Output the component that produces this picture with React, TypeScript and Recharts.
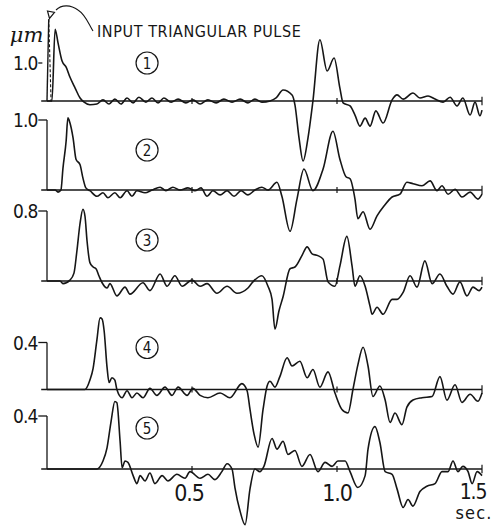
import React from 'react';
import { LineChart, Line, XAxis, YAxis, ReferenceLine, ReferenceDot } from 'recharts';

// Response records: time (sec) and displacement (µm), taken at the turning points of each trace
const t1 = [
  0, 0.017, 0.028, 0.038, 0.052, 0.066, 0.079, 0.097, 0.114, 0.128,
  0.148, 0.172, 0.193, 0.214, 0.234, 0.255, 0.276, 0.297, 0.317, 0.341,
  0.362, 0.383, 0.403, 0.428, 0.452, 0.479, 0.503, 0.528, 0.555, 0.583,
  0.61, 0.638, 0.666, 0.693, 0.717, 0.741, 0.769, 0.79, 0.814, 0.845,
  0.855, 0.869, 0.883, 0.9, 0.917, 0.941, 0.966, 0.99, 1.01, 1.021,
  1.045, 1.062, 1.079, 1.097, 1.114, 1.134, 1.159, 1.19, 1.207, 1.228,
  1.262, 1.286, 1.314, 1.338, 1.366, 1.39, 1.414, 1.434, 1.459, 1.476,
  1.493, 1.5,
];
const a1 = [
  0, 0, 1.89, 1.53, 1.05, 0.89, 0.63, 0.34, 0.08, -0.03,
  -0.1, -0.08, 0.03, -0.08, 0.05, -0.08, 0.08, -0.05, 0.1, -0.03,
  0.08, -0.05, 0.08, -0.03, 0.05, -0.05, 0.03, -0.08, 0.03, -0.05,
  0.05, -0.03, 0.05, -0.05, 0.05, -0.03, 0, 0.08, 0.29, 0.16,
  -0.1, -0.97, -1.58, -0.97, 0, 1.61, 0.79, 1.13, 0.34, -0.05,
  -0.13, -0.37, -0.66, -0.45, -0.66, -0.26, -0.58, 0.03, 0.16, 0.05,
  0.21, 0.08, 0.13, 0.05, -0.03, 0.1, -0.13, 0.08, -0.37, -0.03,
  -0.39, -0.24,
];

const t2 = [
  0, 0.028, 0.038, 0.048, 0.055, 0.066, 0.072, 0.079, 0.09, 0.1,
  0.114, 0.124, 0.134, 0.148, 0.172, 0.193, 0.21, 0.234, 0.252, 0.276,
  0.293, 0.31, 0.338, 0.362, 0.39, 0.41, 0.434, 0.459, 0.486, 0.51,
  0.531, 0.552, 0.572, 0.597, 0.621, 0.645, 0.669, 0.693, 0.717, 0.741,
  0.762, 0.793, 0.81, 0.838, 0.862, 0.886, 0.917, 0.952, 0.986, 1.01,
  1.031, 1.045, 1.062, 1.072, 1.09, 1.114, 1.138, 1.162, 1.19, 1.217,
  1.241, 1.262, 1.293, 1.321, 1.345, 1.362, 1.383, 1.407, 1.431, 1.459,
  1.486, 1.5,
];
const a2 = [
  0, 0, -0.03, 0, 0.31, 0.7, 1.03, 0.96, 0.74, 0.44,
  0.36, 0.17, 0.03, -0.01, -0.09, -0.04, -0.11, -0.04, -0.11, -0.01,
  -0.09, -0.01, -0.04, 0, 0.04, -0.01, 0.04, 0, 0.03, -0.01,
  0.03, -0.09, -0.01, -0.07, -0.01, -0.09, -0.01, -0.07, 0, 0.04,
  0, 0.11, -0.09, -0.59, -0.13, 0.3, -0.01, 0.3, 0.84, 0.44,
  0.19, 0.16, -0.13, -0.41, -0.31, -0.56, -0.37, -0.23, -0.1, -0.06,
  0.11, 0.09, 0.06, 0.13, -0.01, 0.06, -0.06, 0.01, -0.1, -0.03,
  -0.13, -0.06,
];

const t3 = [
  0, 0.045, 0.055, 0.079, 0.093, 0.103, 0.114, 0.124, 0.131, 0.138,
  0.148, 0.159, 0.169, 0.179, 0.19, 0.207, 0.217, 0.241, 0.269, 0.286,
  0.331, 0.355, 0.39, 0.414, 0.441, 0.466, 0.5, 0.528, 0.552, 0.586,
  0.621, 0.655, 0.693, 0.71, 0.741, 0.762, 0.776, 0.786, 0.8, 0.814,
  0.838, 0.855, 0.879, 0.897, 0.914, 0.934, 0.952, 0.969, 0.993, 1.01,
  1.034, 1.052, 1.062, 1.079, 1.097, 1.114, 1.121, 1.138, 1.159, 1.19,
  1.207, 1.228, 1.252, 1.276, 1.303, 1.328, 1.355, 1.379, 1.4, 1.424,
  1.448, 1.469, 1.49, 1.5,
];
const a3 = [
  0, 0, -0.03, 0.01, 0.09, 0.34, 0.66, 0.82, 0.74, 0.46,
  0.21, 0.16, 0.14, 0.06, -0.02, -0.08, -0.03, -0.17, -0.07, -0.15,
  -0.02, -0.11, 0.08, -0.06, 0.06, -0.06, 0.01, -0.06, -0.03, -0.14,
  -0.06, -0.14, -0.08, -0.01, 0.06, -0.06, -0.21, -0.55, -0.34, -0.18,
  0.14, 0.16, 0.29, 0.39, 0.31, 0.29, 0.25, -0.01, -0.06, 0.17,
  0.51, 0.17, -0.06, 0.06, -0.06, -0.29, -0.38, -0.3, -0.38, -0.21,
  -0.21, -0.13, 0.06, -0.07, 0.23, -0.03, 0.08, -0.06, -0.15, -0.01,
  -0.17, -0.07, -0.11, -0.07,
];

const t4 = [
  0, 0.131, 0.148, 0.159, 0.172, 0.183, 0.19, 0.197, 0.207, 0.214,
  0.224, 0.234, 0.241, 0.259, 0.276, 0.293, 0.31, 0.331, 0.355, 0.379,
  0.407, 0.431, 0.452, 0.483, 0.503, 0.528, 0.555, 0.597, 0.631, 0.672,
  0.69, 0.7, 0.714, 0.728, 0.745, 0.759, 0.769, 0.786, 0.803, 0.828,
  0.845, 0.872, 0.897, 0.917, 0.941, 0.969, 0.993, 1.017, 1.038, 1.055,
  1.072, 1.09, 1.107, 1.124, 1.148, 1.166, 1.183, 1.2, 1.224, 1.241,
  1.262, 1.293, 1.328, 1.355, 1.379, 1.407, 1.431, 1.459, 1.486, 1.5,
];
const a4 = [
  0, 0, 0.08, 0.18, 0.42, 0.61, 0.6, 0.5, 0.19, 0.06,
  0.1, 0.08, 0, -0.07, -0.01, -0.07, -0.03, -0.07, 0.01, -0.05,
  0.02, -0.05, 0.02, -0.05, 0.01, -0.05, -0.07, -0.03, -0.07, 0.05,
  -0.01, -0.17, -0.38, -0.49, -0.17, 0.03, 0.07, 0.02, 0.11, 0.27,
  0.2, 0.24, 0.1, 0.17, 0.02, 0.15, -0.03, -0.17, -0.2, 0,
  0.21, 0.36, 0.2, -0.06, 0.03, -0.09, -0.28, -0.2, -0.3, -0.15,
  -0.09, -0.07, -0.06, 0.11, -0.09, 0.04, -0.11, -0.04, -0.1, -0.03,
];

const t5 = [
  0, 0.172, 0.193, 0.207, 0.221, 0.234, 0.241, 0.252, 0.259, 0.269,
  0.279, 0.297, 0.31, 0.321, 0.338, 0.355, 0.372, 0.397, 0.417, 0.448,
  0.476, 0.493, 0.528, 0.555, 0.579, 0.603, 0.621, 0.638, 0.648, 0.666,
  0.683, 0.7, 0.717, 0.734, 0.748, 0.776, 0.793, 0.814, 0.831, 0.855,
  0.879, 0.907, 0.934, 0.959, 0.983, 1.003, 1.028, 1.045, 1.072, 1.097,
  1.107, 1.131, 1.148, 1.166, 1.19, 1.207, 1.228, 1.245, 1.262, 1.286,
  1.31, 1.338, 1.362, 1.383, 1.4, 1.417, 1.434, 1.452, 1.466, 1.483,
  1.5,
];
const a5 = [
  0, 0, 0.06, 0.16, 0.36, 0.51, 0.5, 0.21, 0.01, 0.06,
  0.05, -0.05, -0.11, -0.05, -0.09, -0.03, -0.11, -0.05, -0.09, -0.04,
  -0.07, -0.02, -0.07, -0.04, -0.08, -0.02, 0.04, 0, -0.14, -0.32,
  -0.42, -0.15, 0, -0.02, 0.02, 0.23, 0.15, 0.21, 0.11, 0.14,
  0.02, 0.11, -0.02, 0.05, 0.02, 0.06, 0.06, -0.02, -0.14, -0.05,
  0.15, 0.32, 0.2, -0.02, -0.04, -0.15, -0.29, -0.23, -0.28, -0.17,
  -0.13, -0.11, -0.02, -0.02, 0.06, -0.02, 0.02, -0.02, -0.11, -0.02,
  -0.05,
];

// input triangular pulse drawn on the first record
const inputTime = [0, 0.006, 0.014];
const inputAmp = [0, 2.15, 0];

const traceNames = ['1', '2', '3', '4', '5'];
const scaleMarks = [1.0, 1.0, 0.8, 0.4, 0.4];
const timeTicks = [0.5, 1.0, 1.5];

const TIMES = [t1, t2, t3, t4, t5];
const AMPS = [a1, a2, a3, a4, a5];

const W = 496;
const H = 528;
const INK = '#161616';
const LETTERING = "'DejaVu Sans Condensed', 'DejaVu Sans', sans-serif";

// shared time scale for all five records
const PX_PER_SEC = 290;
const ORIGIN_X = 47;
const T_MIN = -0.035;
const T_MAX = 1.512;
const LEFT = ORIGIN_X + T_MIN * PX_PER_SEC;
const RIGHT = W - LEFT - (T_MAX - T_MIN) * PX_PER_SEC;

// each record has its own zero line and amplitude scale
const BASELINE_Y = [101, 190, 281, 389.5, 469];
const PX_PER_UM = [38, 70, 87.5, 117.5, 132.5];
const BADGE_RISE = [38, 40, 41, 42, 41];
const BADGE_T = 0.345;

const toRows = (ts: number[], vs: number[]) => ts.map((t, i) => ({ t, v: vs[i] }));

function boxOf(p: any) {
  const vb = (p && p.viewBox) || {};
  return { x: vb.x ?? 0, y: vb.y ?? 0, w: vb.width ?? 0, h: vb.height ?? 0 };
}

const scaleLabel = (i: number) => (p: any) => {
  const b = boxOf(p);
  return (
    <g>
      {i === 0 && (
        <text
          x={b.x + 5}
          y={b.y - 21}
          textAnchor="end"
          fontFamily="'DejaVu Serif', serif"
          fontStyle="italic"
          fontSize={21}
          fill={INK}
        >
          μm
        </text>
      )}
      <text
        x={b.x - 1}
        y={b.y + 7}
        textAnchor="end"
        fontFamily={LETTERING}
        fontSize={19}
        letterSpacing={-1}
        fill={INK}
      >
        {scaleMarks[i].toFixed(1)}
      </text>
    </g>
  );
};

const timeLabel = (tick: number) => (p: any) => {
  const b = boxOf(p);
  const cx = b.x + b.w / 2;
  const base = b.y + b.h / 2;
  const style = { fontFamily: LETTERING, fontSize: 23, letterSpacing: -1.2, fill: INK };
  if (tick === 1.5) {
    return (
      <g>
        <text x={cx - 9} y={base + 30} textAnchor="middle" {...style} fontSize={21}>
          {tick.toFixed(1)}
        </text>
        <text x={cx - 8} y={base + 50} textAnchor="middle" {...style} fontSize={18} letterSpacing={1.2}>
          sec.
        </text>
      </g>
    );
  }
  return (
    <text x={cx - (tick === 0.5 ? 3 : 0)} y={base + 32} textAnchor="middle" {...style}>
      {tick.toFixed(1)}
    </text>
  );
};

const badgeLabel = (name: string) => (p: any) => {
  const b = boxOf(p);
  return (
    <text
      x={b.x + b.w / 2}
      y={b.y + b.h / 2 + 5.5}
      textAnchor="middle"
      fontFamily={LETTERING}
      fontSize={15}
      fill={INK}
    >
      {name}
    </text>
  );
};

function Trace({ i }: { i: number }) {
  const base = BASELINE_Y[i];
  const k = PX_PER_UM[i];
  const yDomain = [-(H - base) / k, base / k];
  const nick = 3 / k;
  const rows = toRows(TIMES[i], AMPS[i]);
  const top = scaleMarks[i];
  const isLast = i === TIMES.length - 1;

  return (
    <div style={{ position: 'absolute', left: 0, top: 0 }}>
      <LineChart width={W} height={H} margin={{ top: 0, right: RIGHT, bottom: 0, left: LEFT }}>
        <XAxis type="number" dataKey="t" domain={[T_MIN, T_MAX]} allowDataOverflow hide />
        <YAxis type="number" domain={yDomain} allowDataOverflow hide />
        <ReferenceLine
          segment={[{ x: -0.02, y: 0 }, { x: 1.5, y: 0 }]}
          stroke={INK}
          strokeWidth={1.3}
        />
        {timeTicks.map((tt) => {
          const h = tt === 1.5 ? nick * 1.4 : nick;
          return (
            <ReferenceLine
              key={tt}
              segment={[{ x: tt, y: -h }, { x: tt, y: h }]}
              stroke={INK}
              strokeWidth={1.2}
              label={isLast ? timeLabel(tt) : undefined}
            />
          );
        })}
        {i > 0 && (
          <ReferenceLine
            segment={[{ x: 0, y: 0 }, { x: 0, y: top }]}
            stroke={INK}
            strokeWidth={1.3}
          />
        )}
        <ReferenceLine
          segment={[{ x: -0.03, y: top }, { x: i === 0 ? -0.016 : 0, y: top }]}
          stroke={INK}
          strokeWidth={1.3}
          label={scaleLabel(i)}
        />
        <ReferenceDot
          x={BADGE_T}
          y={BADGE_RISE[i] / k}
          r={11}
          fill="none"
          stroke={INK}
          strokeWidth={1.2}
          label={badgeLabel(traceNames[i])}
        />
        {i === 0 && (
          <Line
            data={toRows(inputTime.slice(0, 2), inputAmp.slice(0, 2))}
            dataKey="v"
            type="linear"
            stroke={INK}
            strokeWidth={1.4}
            dot={false}
            isAnimationActive={false}
          />
        )}
        {i === 0 && (
          <Line
            data={toRows(inputTime.slice(1), inputAmp.slice(1))}
            dataKey="v"
            type="linear"
            stroke={INK}
            strokeWidth={1.1}
            strokeDasharray="3 2"
            dot={false}
            isAnimationActive={false}
          />
        )}
        <Line
          data={rows}
          dataKey="v"
          type="monotone"
          stroke={INK}
          strokeWidth={1.6}
          dot={false}
          isAnimationActive={false}
        />
      </LineChart>
    </div>
  );
}

export default function App() {
  return (
    <div style={{ position: 'absolute', left: 0, top: 0, width: W, height: H, background: '#fff' }}>
      {traceNames.map((_, i) => (
        <Trace key={i} i={i} />
      ))}
      <svg
        width={W}
        height={H}
        style={{ position: 'absolute', left: 0, top: 0, pointerEvents: 'none' }}
      >
        <path
          d="M 93 31 C 89 25, 86 15, 78 10 C 71 5, 62 4, 56 10"
          fill="none"
          stroke={INK}
          strokeWidth={1.1}
        />
        <polygon points="47.5,11 54.5,12.5 49.5,18.5" fill="none" stroke={INK} strokeWidth={1.2} />
        <text x={97} y={37} fontFamily={LETTERING} fontSize={16} letterSpacing={0.6} fill={INK}>
          INPUT TRIANGULAR PULSE
        </text>
      </svg>
    </div>
  );
}
